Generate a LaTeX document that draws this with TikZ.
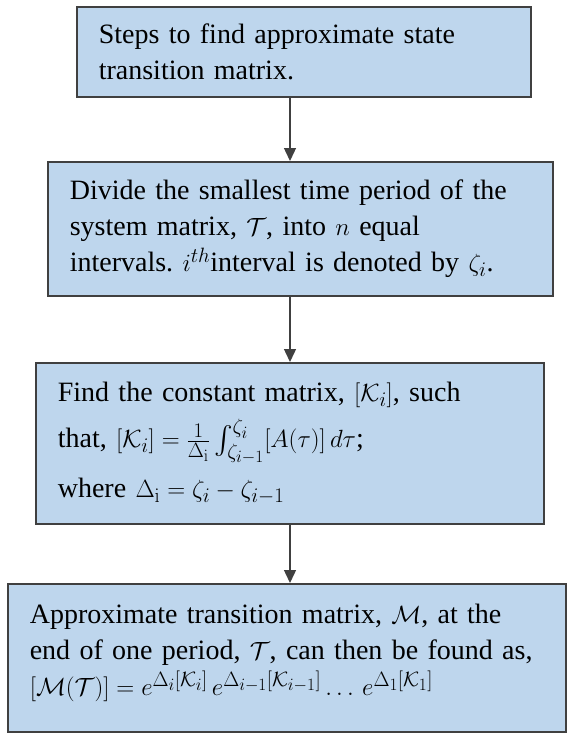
\documentclass[tikz,border=0pt]{standalone}
\usepackage{amsmath}
\usepackage{amssymb}
\usepackage[no-math]{fontspec}
\setmainfont{Liberation Serif}
\usetikzlibrary{positioning}
\usetikzlibrary{arrows.meta}
\definecolor{boxblue}{RGB}{190,214,237}
\definecolor{edgegray}{RGB}{64,64,64}
\DeclareMathSizes{28}{28}{22}{18}
\frenchspacing

\begin{document}
\begin{tikzpicture}[x=1pt,y=-1pt,
  stepbox/.style={draw=edgegray, line width=1.6pt, fill=boxblue, rectangle,
    anchor=north west, align=left, inner xsep=22pt, inner ysep=0pt,
    font=\fontsize{28}{36}\selectfont},
  flow/.style={draw=edgegray, line width=1.4pt, -{Triangle[length=13pt,width=12pt]}}]
  \useasboundingbox (0,0) rectangle (567,733);
  \def\ax{290}
  \coordinate (axis) at (\ax,0);

  \node[stepbox, text width=410pt, minimum height=90pt] (steps) at (76,6)
    {Steps to find approximate state\\ transition matrix.};
  \node[stepbox, text width=461pt, minimum height=134pt] (divide) at (47,161)
    {Divide the smallest time period of the\\
     system matrix, $\mathcal{T}$, into $n$ equal\\
     intervals. $i^{th}$interval is denoted by $\zeta_i$.};
  \node[stepbox, text width=464pt, minimum height=161pt] (const) at (35,362)
    {Find the constant matrix, $[\mathcal{K}_i]$, such\\[10pt]
     that, $[\mathcal{K}_i] = \frac{1}{\Delta_{\mathrm{i}}}\int_{\zeta_{i-1}}^{\zeta_i}[A(\tau)]\,d\tau$;\\[14pt]
     where $\Delta_{\mathrm{i}} = \zeta_i - \zeta_{i-1}$};
  \node[stepbox, text width=514pt, minimum height=148pt] (approx) at (7,583)
    {Approximate transition matrix, $\mathcal{M}$, at the\\
     end of one period, $\mathcal{T}$, can then be found as,\\
     $[\mathcal{M}(\mathcal{T})] = e^{\Delta_i[\mathcal{K}_i]}\,e^{\Delta_{i-1}[\mathcal{K}_{i-1}]}\ldots\,e^{\Delta_1[\mathcal{K}_1]}$\\[-20pt]\mbox{}};

  \draw[flow] (steps.south -| axis) -- (divide.north -| axis);
  \draw[flow] (divide.south -| axis) -- (const.north -| axis);
  \draw[flow] (const.south -| axis) -- (approx.north -| axis);
\end{tikzpicture}
\end{document}
